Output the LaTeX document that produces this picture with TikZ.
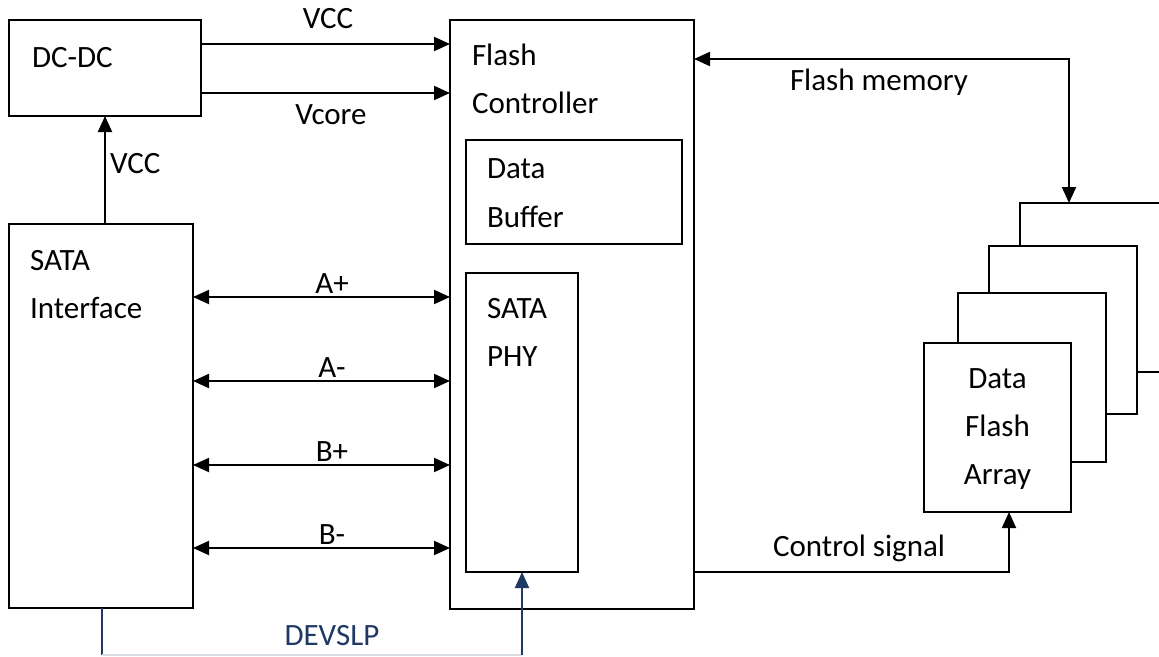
\documentclass[tikz,border=0pt]{standalone}
\usepackage{fontspec}
\setmainfont{Carlito}
\usetikzlibrary{arrows.meta}
\definecolor{navy}{RGB}{31,56,100}
\definecolor{faint}{RGB}{216,221,228}
\tikzset{
  box/.style={draw=black, line width=1.9pt, fill=white, inner sep=0pt, outer sep=0pt},
  txt/.style={inner sep=0pt, outer sep=0pt, font=\fontsize{31}{38}\selectfont},
  conn/.style={line width=1.9pt, draw=black},
  tip/.style={-{Triangle[length=16pt,width=14pt]}},
  btip/.style={{Triangle[length=16pt,width=14pt]}-{Triangle[length=16pt,width=14pt]}},
  devline/.style={line width=1.9pt, draw=navy},
}
\begin{document}
\begin{tikzpicture}[x=1pt,y=-1pt]
\useasboundingbox (0,0) rectangle (1159,656);
\clip (0,0) rectangle (1159,656);
% boxes
\node[box, minimum width=192pt, minimum height=96pt] (dcdc) at (105,68) {};
\node[box, minimum width=184pt, minimum height=384pt] (sata) at (101,416) {};
\node[box, minimum width=244pt, minimum height=589pt] (fc) at (572,314.5) {};
\node[box, minimum width=216pt, minimum height=104pt] (buf) at (574,192) {};
\node[box, minimum width=112pt, minimum height=299pt] (phy) at (522,422.5) {};
\node[box, minimum width=148pt, minimum height=169pt] (arr4) at (1094,287.5) {};
\node[box, minimum width=148pt, minimum height=168pt] (arr3) at (1063,330) {};
\node[box, minimum width=148pt, minimum height=169pt] (arr2) at (1032,377.5) {};
\node[box, minimum width=147pt, minimum height=169pt] (arr1) at (997.5,427.5) {};
% box texts
\node[txt, anchor=base west] (tdc) at (32,67) {DC-DC};
\node[txt, anchor=base west] (tfc1) at (472,65) {Flash};
\node[txt, anchor=base west] (tfc2) at (472,113) {Controller};
\node[txt, anchor=base west] (tbuf1) at (487,178) {Data};
\node[txt, anchor=base west] (tbuf2) at (487,227) {Buffer};
\node[txt, anchor=base west] (tphy1) at (487,318) {SATA};
\node[txt, anchor=base west] (tphy2) at (487,366) {PHY};
\node[txt, anchor=base west] (tsata1) at (30,270) {SATA};
\node[txt, anchor=base west] (tsata2) at (30,318) {Interface};
\node[txt, anchor=base] (tarr1) at (997.5,388) {Data};
\node[txt, anchor=base] (tarr2) at (997.5,436) {Flash};
\node[txt, anchor=base] (tarr3) at (997.5,484) {Array};
% power connectors
\draw[conn, tip] (dcdc.east |- 0,44) -- (fc.west |- 0,44);
\draw[conn, tip] (dcdc.east |- 0,93) -- (fc.west |- 0,93);
\draw[conn, tip] (dcdc.south |- sata.north) -- (dcdc.south);
\node[txt, anchor=base] (lvcc1) at (328,28) {VCC};
\node[txt, anchor=base] (lvcore) at (331,124) {Vcore};
\node[txt, anchor=base west] (lvcc2) at (110,173) {VCC};
% SATA lanes
\foreach \y/\l/\n in {297/A+/ap, 381/A-/am, 465/B+/bp, 548/B-/bm} {
  \draw[conn, btip] (sata.east |- 0,\y) -- (fc.west |- 0,\y);
  \node[txt, anchor=base] (l\n) at (332,\y-4) {\l};
}
% flash memory
\coordinate (fm) at (1069,59);
\draw[conn, btip] (fc.east |- fm) -- (fm) -- (arr4.north -| fm);
\node[txt, anchor=base west] (lfm) at (790,90) {Flash memory};
% control signal
\coordinate (cs) at (1009,572);
\draw[conn, tip] (fc.east |- cs) -- (cs) -- (arr1.south -| cs);
\node[txt, anchor=base west] (lcs) at (773,556) {Control signal};
% DEVSLP
\coordinate (d1) at (102,655);
\coordinate (d2) at (522,655);
\draw[devline] (sata.south -| d1) -- (d1);
\draw[draw=faint, line width=1.2pt] (d1) -- (d2);
\draw[devline, -{Triangle[length=16pt,width=14pt]}] (d2) -- (phy.south -| d2);
\node[txt, anchor=base, text=navy] (ldev) at (332,645) {DEVSLP};
\end{tikzpicture}
\end{document}
